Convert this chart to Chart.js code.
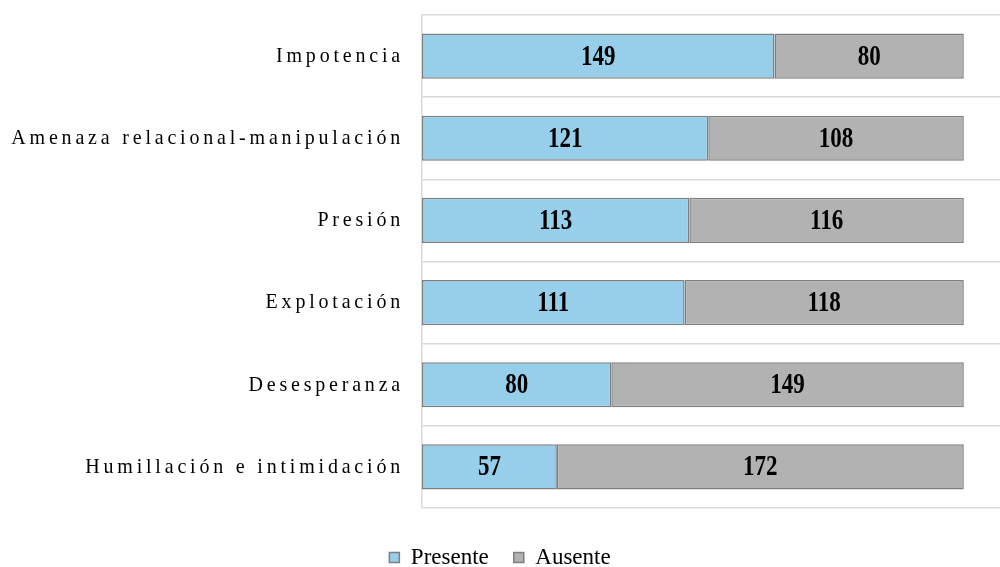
<!DOCTYPE html>
<html>
<head>
<meta charset="utf-8">
<script src="https://cdn.jsdelivr.net/npm/chart.js@4"></script>
<style>
  html, body { margin: 0; padding: 0; background: #fff; }
  #wrap { width: 1000px; height: 567px; }
</style>
</head>
<body>
<div id="wrap"><canvas id="grafico"></canvas></div>
<script>
// datos
const categorias = ['Impotencia', 'Amenaza relacional-manipulación', 'Presión', 'Explotación', 'Desesperanza', 'Humillación e intimidación'];
const presente = [149, 121, 113, 111, 80, 57];
const ausente = [80, 108, 116, 118, 149, 172];

const serif = '"Liberation Serif", "Times New Roman", serif';

// etiquetas de valor dentro de cada barra y nombres de categoria espaciados
const etiquetas = {
  id: 'etiquetas',
  afterDatasetsDraw(chart) {
    const ctx = chart.ctx;
    chart.data.datasets.forEach((ds, i) => {
      chart.getDatasetMeta(i).data.forEach((bar, j) => {
        const p = bar.getCenterPoint();
        ctx.save();
        ctx.translate(p.x, p.y + 1);
        ctx.scale(1, 1.25);
        ctx.font = 'bold 23px ' + serif;
        ctx.fillStyle = '#000';
        ctx.textAlign = 'center';
        ctx.textBaseline = 'middle';
        ctx.fillText(ds.data[j], 0, 0);
        ctx.restore();
      });
    });
  },
  afterDraw(chart) {
    const ctx = chart.ctx;
    const y = chart.scales.y;
    chart.data.labels.forEach((lab, i) => {
      ctx.save();
      ctx.translate(y.right - 18, y.getPixelForTick(i));
      ctx.scale(1, 1.1);
      ctx.letterSpacing = '3.8px';
      ctx.font = '20px ' + serif;
      ctx.fillStyle = '#000';
      ctx.textAlign = 'right';
      ctx.textBaseline = 'middle';
      ctx.fillText(lab, 0, 0);
      ctx.restore();
    });
  }
};

const ctx = document.getElementById('grafico').getContext('2d');
const grafico = new Chart(ctx, {
  type: 'bar',
  data: {
    labels: categorias,
    datasets: [{
      label: 'Presente',
      data: presente,
      backgroundColor: '#97cfeb',
      borderColor: '#7f7f7f',
      borderWidth: 1.5,
      borderSkipped: false
    }, {
      label: 'Ausente',
      data: ausente,
      backgroundColor: '#b2b2b2',
      borderColor: '#7f7f7f',
      borderWidth: 1.5,
      borderSkipped: false
    }]
  },
  options: {
    indexAxis: 'y',
    responsive: true,
    maintainAspectRatio: false,
    animation: false,
    layout: { padding: { top: 15, right: 0, left: 0, bottom: -12 } },
    datasets: { bar: { categoryPercentage: 1, barPercentage: 0.55 } },
    scales: {
      x: {
        stacked: true,
        min: 0,
        max: 244.3,
        grid: { display: false },
        border: { display: false },
        ticks: { display: false },
        afterFit(scale) { scale.height = 13; }
      },
      y: {
        stacked: true,
        grid: { color: '#d9d9d9', lineWidth: 1.5, drawTicks: false, offset: true },
        border: { color: '#d9d9d9', width: 1.5 },
        ticks: { display: false },
        afterFit(scale) { scale.width = 422; }
      }
    },
    plugins: {
      tooltip: { enabled: false },
      legend: {
        position: 'bottom',
        labels: {
          boxWidth: 10,
          boxHeight: 10,
          padding: 25,
          color: '#000',
          font: { family: serif, size: 23 }
        }
      }
    }
  },
  plugins: [etiquetas]
});
</script>
</body>
</html>
